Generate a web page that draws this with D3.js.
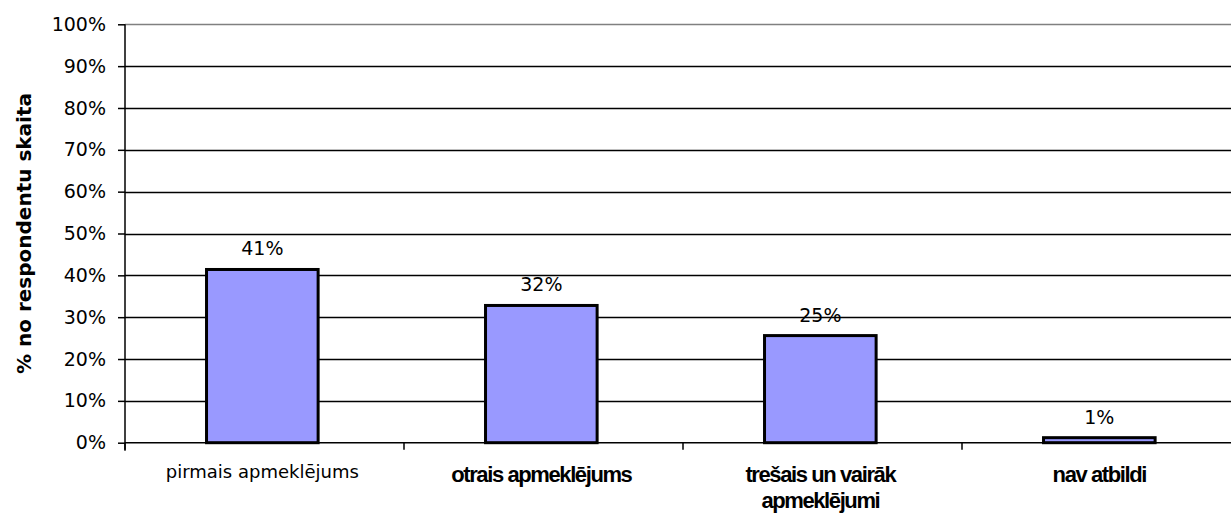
<!DOCTYPE html>
<html><head><meta charset="utf-8">
<script src="https://cdn.jsdelivr.net/npm/d3@7"></script>
<style>body{margin:0;background:#fff;}svg{display:block;}</style>
</head><body>
<svg id="c" width="1231" height="515"></svg>
<script>
const categories = ["pirmais apmeklējums", "otrais apmeklējums", "trešais un vairāk apmeklējumi", "nav atbildi"];
const categoryLines = [["pirmais apmeklējums"], ["otrais apmeklējums"], ["trešais un vairāk", "apmeklējumi"], ["nav atbildi"]];
const categoryBold = [false, true, true, true];
const values = [41.4, 32.8, 25.6, 1.2];
const valueLabels = ["41%", "32%", "25%", "1%"];
const yTicks = [0, 10, 20, 30, 40, 50, 60, 70, 80, 90, 100];
const yTitle = "% no respondentu skaita";

(function () {
const svg = d3.select("#c");
const mLeft = 125, mTop = 24.3, mBottom = 442.7, mRight = 1241;
const font = "'DejaVu Sans', Verdana, sans-serif";

const x = d3.scaleBand().domain(categories).range([mLeft, mRight]).paddingInner(0.6).paddingOuter(0.3).align(0.487);
const y = d3.scaleLinear().domain([0, 100]).range([mBottom, mTop]);

// gridlines
svg.append("g").selectAll("line").data(yTicks.filter(t => t > 0)).join("line")
  .attr("x1", mLeft).attr("x2", 1231)
  .attr("y1", d => Math.round(y(d)) + 0.5).attr("y2", d => Math.round(y(d)) + 0.5)
  .attr("stroke", d => d === 100 ? "#808080" : "#000").attr("stroke-width", 1.5);

// y axis
const yAxis = svg.append("g").attr("transform", `translate(${mLeft},0)`)
  .call(d3.axisLeft(y).tickValues(yTicks).tickSize(7).tickPadding(12).tickFormat(d => d + "%"));
yAxis.select(".domain").attr("stroke", "#000").attr("stroke-width", 1.5).attr("d", `M0,${y(100)}V${y(0)+8}`);
yAxis.selectAll(".tick line").attr("stroke", "#000").attr("stroke-width", 1.5);
yAxis.selectAll(".tick text").attr("font-family", font).attr("font-size", 19).attr("fill", "#000");

// x axis
const bounds = d3.range(0, categories.length + 1).map(i => mLeft + i * (mRight - mLeft) / categories.length);
svg.append("line").attr("x1", mLeft).attr("x2", 1231).attr("y1", mBottom).attr("y2", mBottom)
  .attr("stroke", "#000").attr("stroke-width", 1.5);
svg.append("g").selectAll("line").data(bounds.slice(0, categories.length)).join("line")
  .attr("x1", d => d).attr("x2", d => d).attr("y1", mBottom).attr("y2", mBottom + 7)
  .attr("stroke", "#000").attr("stroke-width", 1.5);

// bars
svg.append("g").selectAll("rect").data(categories).join("rect")
  .attr("x", d => x(d)).attr("width", x.bandwidth())
  .attr("y", (d, i) => y(values[i])).attr("height", (d, i) => y(0) - y(values[i]))
  .attr("fill", "#9999FF").attr("stroke", "#000").attr("stroke-width", 3);

// value labels
svg.append("g").selectAll("text").data(categories).join("text")
  .attr("x", d => x(d) + x.bandwidth() / 2).attr("y", (d, i) => y(values[i]) - 14)
  .attr("text-anchor", "middle").attr("font-family", font).attr("font-size", 19).attr("fill", "#000")
  .text((d, i) => valueLabels[i]);

// category labels
categories.forEach((c, i) => {
  const cx = x(c) + x.bandwidth() / 2;
  const t = svg.append("text")
    .attr("x", cx).attr("y", categoryBold[i] ? 482 : 478)
    .attr("text-anchor", "middle").attr("fill", "#000")
    .attr("font-family", categoryBold[i] ? "'Liberation Sans', Arial, sans-serif" : font)
    .attr("font-size", categoryBold[i] ? 22 : 18)
    .attr("font-weight", categoryBold[i] ? "bold" : "normal")
    .attr("letter-spacing", categoryBold[i] ? -1.4 : 0);
  categoryLines[i].forEach((ln, k) => {
    t.append("tspan").attr("x", cx).attr("dy", k === 0 ? 0 : 26).text(ln);
  });
});

// y title
svg.append("text").attr("transform", `translate(31,${(mTop + mBottom) / 2}) rotate(-90)`)
  .attr("text-anchor", "middle").attr("font-family", font)
  .attr("font-size", 20).attr("font-weight", "bold").attr("fill", "#000").text(yTitle);
})();
</script>
</body></html>
